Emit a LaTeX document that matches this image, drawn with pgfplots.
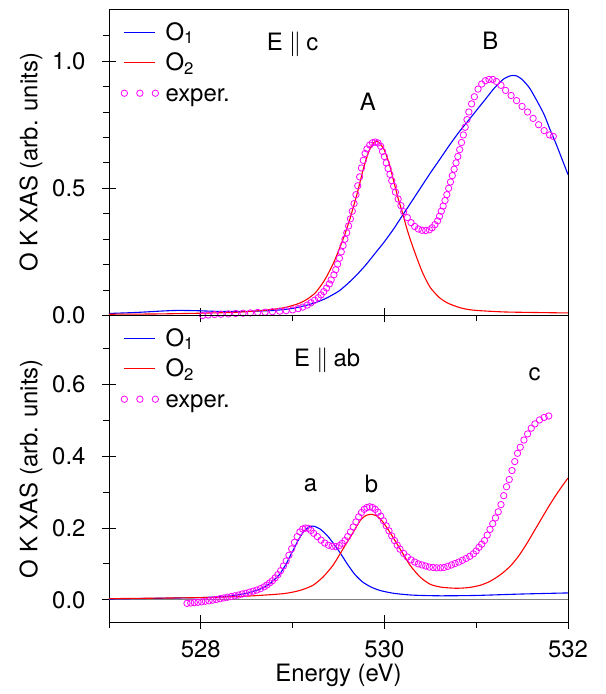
\documentclass[border=0pt]{standalone}
\usepackage{pgfplots}
\pgfplotsset{compat=1.18}
\usepackage{fontspec}
\setmainfont{TeX Gyre Heros}
\setsansfont{TeX Gyre Heros}

\definecolor{ocurveA}{RGB}{0,0,255}
\definecolor{ocurveB}{RGB}{255,0,0}
\definecolor{expcol}{RGB}{255,0,255}

\newcommand{\bigfont}{\fontsize{24}{28}\selectfont}

\pgfplotsset{
  xasaxis/.style={
    scale only axis,
    width=459bp, height=306.5bp,
    xmin=527, xmax=532,
    xtick={528,530,532},
    minor xtick={527,529,531},
    xtick pos=left, ytick pos=left,
    tick align=outside,
    major tick length=14bp,
    minor tick length=6bp,
    major x tick style={yshift=7bp},
    major y tick style={xshift=7bp},
    every tick/.style={black, line width=0.8bp},
    axis line style={line width=0.9bp},
    /pgf/number format/assume math mode=true,
    tick label style={font=\bigfont},
    yticklabel style={xshift=-6bp},
    xticklabel style={yshift=-1bp},
    ylabel={O K XAS (arb. units)},
    every axis y label/.style={at={(rel axis cs:0,0.5)}, xshift=-78bp,
      rotate=90, anchor=center, font=\bigfont},
    every axis x label/.style={at={(rel axis cs:0.5,0)}, yshift=-53bp,
      anchor=center, font=\bigfont},
    legend cell align=left,
    legend style={draw=none, fill=none, inner sep=0pt, font=\bigfont,
      row sep=6.5bp, column sep=7bp,
      nodes={inner xsep=0pt, inner ysep=0pt, text height=20bp, text depth=4bp}},
    legend image code/.code={\draw[##1, line width=1.1bp] (0bp,0bp) -- (31bp,0bp);},
    curve1/.style={draw=ocurveA, color=ocurveA, line width=1.1bp, smooth, tension=0.4, no markers},
    curve2/.style={draw=ocurveB, color=ocurveB, line width=1.1bp, smooth, tension=0.4, no markers},
    expdata/.style={expcol, only marks, mark=o, mark size=3.2bp,
      mark options={line width=0.8bp},
      legend image code/.code={\draw[####1] plot coordinates {(0bp,0bp) (15.5bp,0bp) (31bp,0bp)};}},
  }
}

\begin{document}
\begin{tikzpicture}
\useasboundingbox (-109bp,-72bp) rectangle (497bp,622bp);

% ---------------- upper panel: E || c ----------------
\begin{axis}[xasaxis,
  at={(0bp,306.5bp)}, anchor=south west,
  ymin=0, ymax=1.205,
  ytick={0,0.5,1.0}, yticklabels={0.0,0.5,1.0},
  minor ytick={0.1,0.2,0.3,0.4,0.6,0.7,0.8,0.9,1.1},
  xticklabels={},
  legend style={at={(axis description cs:0.0261,0.964)}, anchor=north west},
]
\addplot[curve1] coordinates {
(527.00,0.008) (527.30,0.012) (527.60,0.018) (527.75,0.020) (527.95,0.019)
(528.20,0.016) (528.50,0.016) (528.80,0.020) (529.00,0.028) (529.20,0.045)
(529.35,0.065) (529.50,0.095) (529.60,0.125) (529.70,0.160) (529.80,0.200)
(529.90,0.245) (530.00,0.290) (530.10,0.340) (530.20,0.395) (530.30,0.450)
(530.40,0.505) (530.50,0.560) (530.60,0.612) (530.70,0.665) (530.80,0.715)
(530.90,0.760) (531.00,0.805) (531.10,0.850) (531.20,0.895) (531.30,0.930)
(531.38,0.943) (531.44,0.942) (531.50,0.928) (531.58,0.895) (531.66,0.845)
(531.74,0.790) (531.80,0.735) (531.87,0.675) (531.94,0.610) (532.00,0.554)
};
\addlegendentry{O\textsubscript{1}}
\addplot[curve2] coordinates {
(527.00,0.005) (527.50,0.006) (528.00,0.009) (528.40,0.013) (528.70,0.021)
(528.90,0.030) (529.05,0.045) (529.15,0.062) (529.25,0.090) (529.35,0.140)
(529.45,0.210) (529.55,0.300) (529.62,0.375) (529.70,0.475) (529.77,0.575)
(529.83,0.645) (529.88,0.678) (529.92,0.685) (529.96,0.672) (530.00,0.650)
(530.05,0.600) (530.10,0.530) (530.15,0.460) (530.20,0.400) (530.25,0.335)
(530.30,0.280) (530.36,0.220) (530.42,0.165) (530.50,0.110) (530.60,0.070)
(530.70,0.047) (530.85,0.028) (531.00,0.020) (531.30,0.014) (531.60,0.012)
(532.00,0.010)
};
\addlegendentry{O\textsubscript{2}}
\addplot[expdata] coordinates {
(527.85,-0.004) (527.89,-0.004) (527.93,-0.003) (527.97,-0.002) (528.02,0.000)
(528.08,0.002) (528.15,0.004) (528.22,0.005) (528.30,0.006) (528.38,0.008)
(528.46,0.009) (528.54,0.010) (528.62,0.012) (528.70,0.013) (528.78,0.015)
(528.86,0.017) (528.93,0.019) (529.00,0.022) (529.06,0.027) (529.11,0.033)
(529.16,0.041) (529.20,0.050) (529.24,0.060) (529.28,0.070) (529.31,0.081)
(529.34,0.094) (529.37,0.108) (529.40,0.124) (529.42,0.140) (529.45,0.160)
(529.47,0.180) (529.49,0.202) (529.51,0.225) (529.53,0.250) (529.55,0.275)
(529.57,0.300) (529.59,0.325) (529.61,0.352) (529.63,0.380) (529.65,0.410)
(529.67,0.440) (529.69,0.475) (529.71,0.510) (529.73,0.545) (529.75,0.580)
(529.77,0.610) (529.79,0.637) (529.81,0.655) (529.84,0.670) (529.87,0.679)
(529.90,0.682) (529.93,0.678) (529.96,0.665) (529.98,0.645) (530.00,0.625)
(530.02,0.600) (530.04,0.578) (530.06,0.555) (530.08,0.530) (530.10,0.508)
(530.12,0.485) (530.15,0.458) (530.18,0.432) (530.21,0.408) (530.25,0.385)
(530.29,0.365) (530.33,0.350) (530.37,0.340) (530.41,0.335) (530.45,0.334)
(530.49,0.337) (530.52,0.345) (530.55,0.357) (530.58,0.372) (530.60,0.390)
(530.62,0.410) (530.64,0.430) (530.66,0.452) (530.68,0.475) (530.70,0.500)
(530.72,0.525) (530.74,0.550) (530.76,0.575) (530.78,0.600) (530.80,0.625)
(530.82,0.652) (530.84,0.680) (530.86,0.710) (530.88,0.740) (530.90,0.770)
(530.92,0.800) (530.95,0.832) (530.98,0.860) (531.02,0.890) (531.06,0.910)
(531.10,0.923) (531.14,0.928) (531.18,0.928) (531.22,0.920) (531.27,0.905)
(531.32,0.885) (531.38,0.865) (531.44,0.845) (531.50,0.822) (531.56,0.800)
(531.62,0.775) (531.68,0.750) (531.74,0.727) (531.80,0.710) (531.84,0.704)
};
\addlegendentry{exper.}
\node[font=\bigfont, inner sep=0pt] at (axis cs:529.0,1.068) {E\hspace{6bp}$\|$\hspace{5bp}c};
\node[font=\bigfont, inner sep=0pt] at (axis cs:529.82,0.839) {A};
\node[font=\bigfont, inner sep=0pt] at (axis cs:531.155,1.081) {B};
\end{axis}

% ---------------- lower panel: E || ab ----------------
\begin{axis}[xasaxis,
  at={(0bp,0bp)}, anchor=south west,
  ymin=-0.062, ymax=0.792,
  ytick={0,0.2,0.4,0.6}, yticklabels={0.0,0.2,0.4,0.6},
  minor ytick={0.1,0.3,0.5,0.7},
  xticklabels={528,530,532},
  xlabel={Energy (eV)},
  legend style={at={(axis description cs:0.0261,0.9657)}, anchor=north west},
]
\addplot[gray, line width=1.1bp, forget plot] coordinates {(527,0) (532,0)};
\addplot[curve1] coordinates {
(527.00,0.002) (527.50,0.004) (528.00,0.006) (528.30,0.010) (528.50,0.018)
(528.65,0.030) (528.75,0.045) (528.85,0.068) (528.93,0.100) (529.00,0.135)
(529.06,0.165) (529.12,0.190) (529.18,0.203) (529.23,0.205) (529.30,0.197)
(529.38,0.178) (529.45,0.155) (529.52,0.130) (529.60,0.098) (529.68,0.070)
(529.76,0.050) (529.85,0.036) (529.95,0.026) (530.10,0.018) (530.30,0.013)
(530.60,0.011) (531.00,0.012) (531.50,0.016) (532.00,0.019)
};
\addlegendentry{O\textsubscript{1}}
\addplot[curve2] coordinates {
(527.00,0.003) (528.00,0.006) (528.50,0.010) (528.90,0.017) (529.08,0.026)
(529.22,0.040) (529.33,0.063) (529.44,0.096) (529.55,0.142) (529.66,0.188)
(529.74,0.222) (529.80,0.235) (529.86,0.238) (529.92,0.233) (529.98,0.218)
(530.06,0.188) (530.17,0.142) (530.28,0.096) (530.39,0.063) (530.50,0.043)
(530.62,0.035) (530.78,0.032) (530.92,0.034) (531.04,0.040) (531.14,0.050)
(531.22,0.062) (531.30,0.077) (531.38,0.096) (531.46,0.121) (531.55,0.156)
(531.64,0.195) (531.73,0.234) (531.80,0.264) (531.87,0.292) (531.94,0.318)
(532.00,0.339)
};
\addlegendentry{O\textsubscript{2}}
\addplot[expdata] coordinates {
(527.85,-0.010) (527.89,-0.009) (527.93,-0.008) (527.97,-0.007) (528.01,-0.006)
(528.05,-0.004) (528.09,-0.003) (528.13,-0.001) (528.17,0.001) (528.21,0.003)
(528.25,0.005) (528.29,0.007) (528.33,0.009) (528.37,0.011) (528.41,0.013)
(528.45,0.016) (528.49,0.018) (528.53,0.021) (528.57,0.024) (528.61,0.027)
(528.65,0.031) (528.69,0.036) (528.72,0.041) (528.75,0.047) (528.78,0.053)
(528.81,0.061) (528.84,0.070) (528.87,0.081) (528.90,0.094) (528.93,0.108)
(528.96,0.124) (528.99,0.142) (529.02,0.160) (529.05,0.176) (529.08,0.189)
(529.11,0.197) (529.14,0.200) (529.17,0.199) (529.20,0.193) (529.23,0.185)
(529.27,0.176) (529.31,0.166) (529.35,0.158) (529.39,0.152) (529.43,0.149)
(529.47,0.148) (529.51,0.151) (529.54,0.157) (529.57,0.165) (529.60,0.176)
(529.63,0.189) (529.66,0.203) (529.69,0.217) (529.72,0.231) (529.75,0.243)
(529.78,0.252) (529.81,0.257) (529.84,0.259) (529.87,0.257) (529.90,0.252)
(529.93,0.244) (529.96,0.233) (529.99,0.220) (530.02,0.206) (530.05,0.192)
(530.08,0.178) (530.11,0.165) (530.14,0.152) (530.17,0.141) (530.21,0.129)
(530.25,0.119) (530.29,0.111) (530.33,0.105) (530.37,0.100) (530.41,0.097)
(530.45,0.094) (530.49,0.091) (530.53,0.090) (530.57,0.089) (530.61,0.089)
(530.65,0.090) (530.69,0.093) (530.73,0.097) (530.77,0.101) (530.81,0.105)
(530.85,0.110) (530.89,0.115) (530.93,0.121) (530.97,0.128) (531.00,0.136)
(531.03,0.146) (531.06,0.155) (531.09,0.165) (531.12,0.180) (531.15,0.196)
(531.18,0.212) (531.21,0.228) (531.24,0.245) (531.27,0.265) (531.30,0.290)
(531.33,0.315) (531.36,0.335) (531.39,0.360) (531.42,0.385) (531.45,0.408)
(531.48,0.425) (531.52,0.445) (531.56,0.462) (531.60,0.478) (531.64,0.490)
(531.69,0.501) (531.74,0.508) (531.79,0.512)
};
\addlegendentry{exper.}
\node[font=\bigfont, inner sep=0pt] at (axis cs:529.377,0.668) {E\hspace{6bp}$\|$\hspace{5bp}ab};
\node[font=\bigfont, inner sep=0pt] at (axis cs:531.637,0.629) {c};
\node[font=\bigfont, inner sep=0pt] at (axis cs:529.195,0.318) {a};
\node[font=\bigfont, inner sep=0pt] at (axis cs:529.859,0.323) {b};
\end{axis}
\end{tikzpicture}
\end{document}
